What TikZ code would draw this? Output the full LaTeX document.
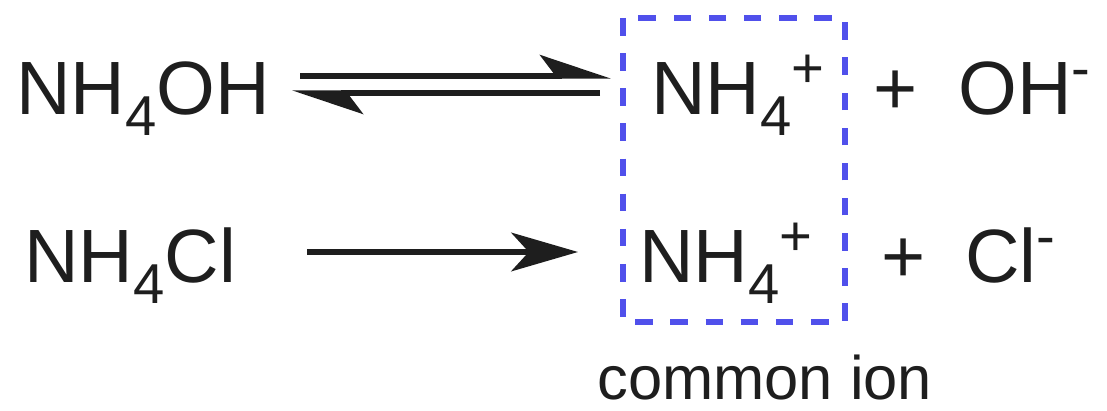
\documentclass[tikz,border=0pt]{standalone}
\usepackage{fontspec}
\setmainfont{Liberation Sans}
\usetikzlibrary{arrows.meta}
\definecolor{ionblue}{RGB}{80,80,235}
\definecolor{inkgray}{RGB}{30,30,30}
\newcommand{\chsub}[1]{\raisebox{-0.27em}{\fontsize{32pt}{33pt}\selectfont #1}}
\newcommand{\chsup}[1]{\raisebox{0.36em}{\fontsize{32pt}{33pt}\selectfont #1}}
\begin{document}
\begin{tikzpicture}[x=0.02cm,y=-0.02cm,
  chem/.style={anchor=base west,inner sep=0pt,text=inkgray,font=\fontsize{43pt}{45pt}\selectfont},
  rxn/.style={line width=3pt,draw=inkgray}]
\useasboundingbox (0,0) rectangle (1107,411);
% first row: weak base
\node[chem] (nhoh) at (16,115) {NH\chsub{4}OH};
\node[chem] (ionA) at (651,115) {NH\chsub{4}\chsup{+}};
\node[chem] (plusA) at (873,115) {+};
\node[chem] (oh) at (958,115) {OH\chsup{-}};
% second row: salt
\node[chem] (nhcl) at (24,283) {NH\chsub{4}Cl};
\node[chem] (ionB) at (639,283) {NH\chsub{4}\chsup{+}};
\node[chem] (plusB) at (881,283) {+};
\node[chem] (cl) at (965,283) {Cl\chsup{-}};
% arrows
\coordinate (fwdL) at (300,76);
\coordinate (fwdR) at (611,76);
\coordinate (bwdR) at (600,93);
\coordinate (bwdL) at (292,93);
\draw[rxn,-{Stealth[harpoon,length=36pt,width=24pt,inset=9pt]}] (fwdL)--(fwdR);
\draw[rxn,-{Stealth[harpoon,length=36pt,width=24pt,inset=9pt]}] (bwdR)--(bwdL);
\coordinate (oneL) at (307,252);
\coordinate (oneR) at (578,252);
\draw[rxn,-{Stealth[length=38pt,width=22pt,inset=10pt]}] (oneL)--(oneR);
% common ion box
\coordinate (boxTL) at (623,18);
\coordinate (boxBR) at (845,322);
\draw[ionblue,line width=3.3pt,dash pattern=on 10pt off 10pt](boxTL) rectangle (boxBR);
\node[anchor=base west,inner sep=0pt,text=inkgray,font=\fontsize{35pt}{36pt}\selectfont](common) at (597,400) {common ion};
\end{tikzpicture}
\end{document}
